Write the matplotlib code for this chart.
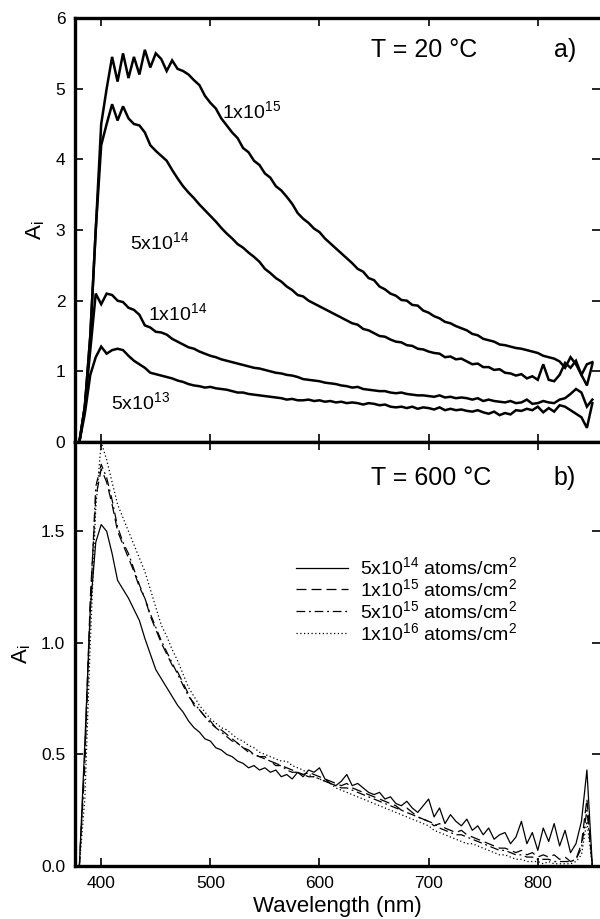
import numpy as np
import matplotlib
matplotlib.use("Agg")
import matplotlib.pyplot as plt

plt.rcParams['font.family'] = ['Liberation Sans', 'DejaVu Sans']
plt.rcParams['mathtext.fontset'] = 'custom'
plt.rcParams['mathtext.rm'] = 'Liberation Sans'
plt.rcParams['mathtext.it'] = 'Liberation Sans:italic'
plt.rcParams['mathtext.default'] = 'regular'

# ---------------- data ----------------
wavelength = np.arange(380, 851, 5)  # nm

# panel a) T = 20 C
a_1e15 = [0.0, 0.5, 1.5, 3.0, 4.5, 5.0, 5.45, 5.1, 5.5, 5.15,
          5.45, 5.2, 5.55, 5.3, 5.5, 5.42, 5.25, 5.4, 5.28, 5.25,
          5.2, 5.12, 5.05, 4.9, 4.8, 4.72, 4.58, 4.48, 4.38, 4.3,
          4.16, 4.1, 3.98, 3.92, 3.8, 3.74, 3.62, 3.56, 3.47, 3.37,
          3.24, 3.16, 3.1, 3.02, 2.97, 2.88, 2.81, 2.74, 2.67, 2.6,
          2.53, 2.45, 2.41, 2.32, 2.29, 2.2, 2.16, 2.1, 2.07, 2.01,
          2.0, 1.94, 1.93, 1.86, 1.83, 1.78, 1.75, 1.7, 1.68, 1.64,
          1.61, 1.58, 1.53, 1.51, 1.46, 1.44, 1.42, 1.38, 1.37, 1.35,
          1.33, 1.32, 1.3, 1.28, 1.26, 1.22, 1.2, 1.18, 1.14, 1.05,
          1.2, 1.1, 0.95, 1.1, 1.13]
a_5e14 = [0.0, 0.5, 1.5, 3.0, 4.2, 4.5, 4.78, 4.55, 4.75, 4.58,
          4.5, 4.48, 4.38, 4.2, 4.12, 4.05, 3.98, 3.85, 3.73, 3.62,
          3.53, 3.45, 3.36, 3.28, 3.2, 3.12, 3.03, 2.95, 2.88, 2.8,
          2.75, 2.68, 2.62, 2.55, 2.45, 2.39, 2.32, 2.27, 2.2, 2.15,
          2.08, 2.06, 2.0, 1.96, 1.92, 1.88, 1.84, 1.8, 1.76, 1.72,
          1.68, 1.66, 1.6, 1.58, 1.54, 1.5, 1.49, 1.45, 1.42, 1.41,
          1.37, 1.36, 1.32, 1.31, 1.28, 1.26, 1.25, 1.2, 1.21, 1.17,
          1.18, 1.14, 1.1, 1.11, 1.06, 1.06, 1.02, 1.03, 0.98, 0.97,
          0.94, 0.96, 0.9, 0.93, 0.88, 1.1, 0.88, 0.86, 0.95, 1.12,
          1.05, 1.15, 0.95, 0.8, 1.1]
a_1e14 = [0.0, 0.5, 1.3, 2.1, 1.95, 2.1, 2.08, 2.0, 1.98, 1.9,
          1.87, 1.8, 1.65, 1.62, 1.56, 1.55, 1.52, 1.46, 1.42, 1.38,
          1.34, 1.32, 1.28, 1.25, 1.22, 1.2, 1.17, 1.15, 1.13, 1.11,
          1.09, 1.07, 1.05, 1.04, 1.02, 1.0, 0.98, 0.97, 0.95, 0.94,
          0.92, 0.89, 0.88, 0.87, 0.86, 0.84, 0.83, 0.82, 0.8, 0.79,
          0.77, 0.78, 0.75, 0.74, 0.73, 0.72, 0.72, 0.7, 0.69, 0.7,
          0.68, 0.67, 0.66, 0.66, 0.65, 0.64, 0.66, 0.63, 0.64, 0.62,
          0.63, 0.62, 0.6, 0.62, 0.58, 0.6, 0.58, 0.57, 0.56, 0.58,
          0.55, 0.56, 0.6, 0.54, 0.55, 0.58, 0.56, 0.55, 0.6, 0.62,
          0.68, 0.75, 0.7, 0.5, 0.6]
a_5e13 = [0.0, 0.4, 0.95, 1.2, 1.35, 1.25, 1.3, 1.32, 1.3, 1.22,
          1.15, 1.1, 1.05, 0.98, 0.96, 0.94, 0.92, 0.9, 0.87, 0.85,
          0.82, 0.8, 0.79, 0.77, 0.78, 0.76, 0.75, 0.74, 0.72, 0.7,
          0.7, 0.68, 0.67, 0.66, 0.65, 0.64, 0.63, 0.62, 0.6, 0.61,
          0.59, 0.59, 0.6, 0.58, 0.59, 0.57, 0.58, 0.56, 0.57, 0.55,
          0.56, 0.55, 0.53, 0.55, 0.54, 0.52, 0.53, 0.5, 0.49, 0.5,
          0.48, 0.5, 0.47, 0.49, 0.48, 0.46, 0.49, 0.45, 0.47, 0.45,
          0.46, 0.44, 0.43, 0.45, 0.42, 0.4, 0.43, 0.38, 0.41, 0.39,
          0.45, 0.44, 0.47, 0.45, 0.5, 0.42, 0.48, 0.43, 0.52, 0.5,
          0.45, 0.4, 0.35, 0.2, 0.55]

# panel b) T = 600 C
b_5e14 = [0.0, 0.55, 1.15, 1.45, 1.53, 1.5, 1.4, 1.28, 1.24, 1.2,
          1.15, 1.1, 1.02, 0.95, 0.88, 0.84, 0.8, 0.76, 0.72, 0.69,
          0.65, 0.62, 0.6, 0.57, 0.56, 0.53, 0.52, 0.5, 0.49, 0.47,
          0.46, 0.44, 0.45, 0.43, 0.44, 0.42, 0.43, 0.4, 0.41, 0.39,
          0.42, 0.4, 0.43, 0.42, 0.44, 0.39, 0.37, 0.36, 0.38, 0.41,
          0.36, 0.37, 0.35, 0.33, 0.32, 0.33, 0.3, 0.31, 0.28, 0.27,
          0.29, 0.26, 0.24, 0.27, 0.3, 0.22, 0.26, 0.19, 0.23, 0.2,
          0.18, 0.21, 0.16, 0.18, 0.14, 0.17, 0.12, 0.14, 0.15, 0.1,
          0.13, 0.2, 0.1, 0.15, 0.07, 0.17, 0.11, 0.19, 0.09, 0.16,
          0.06, 0.1, 0.2, 0.43, 0.0]
b_1e15 = [0.0, 0.5, 1.2, 1.65, 1.78, 1.72, 1.62, 1.5, 1.44, 1.38,
          1.32, 1.25, 1.2, 1.12, 1.06, 1.0, 0.95, 0.9, 0.87, 0.82,
          0.77, 0.72, 0.7, 0.67, 0.65, 0.62, 0.61, 0.59, 0.57, 0.55,
          0.53, 0.52, 0.5, 0.49, 0.49, 0.47, 0.46, 0.45, 0.44, 0.43,
          0.42, 0.41, 0.42, 0.41, 0.4, 0.39, 0.38, 0.37, 0.36, 0.37,
          0.35, 0.34, 0.33, 0.32, 0.31, 0.3, 0.29, 0.28, 0.27, 0.25,
          0.26, 0.24, 0.22, 0.21, 0.2, 0.18, 0.19, 0.17, 0.16, 0.15,
          0.16, 0.14, 0.13, 0.12, 0.11, 0.1, 0.09, 0.08, 0.08, 0.07,
          0.06, 0.07, 0.05, 0.06, 0.04, 0.05, 0.04, 0.05, 0.03, 0.04,
          0.02, 0.03, 0.1, 0.3, 0.0]
b_5e15 = [0.0, 0.45, 1.15, 1.7, 1.8, 1.74, 1.64, 1.52, 1.45, 1.4,
          1.33, 1.26, 1.2, 1.13, 1.07, 1.01, 0.96, 0.91, 0.86, 0.81,
          0.76, 0.73, 0.7, 0.67, 0.64, 0.62, 0.6, 0.58, 0.56, 0.55,
          0.53, 0.51, 0.5, 0.49, 0.48, 0.47, 0.45, 0.45, 0.43, 0.42,
          0.42, 0.41, 0.4, 0.4, 0.39, 0.38, 0.37, 0.36, 0.35, 0.35,
          0.34, 0.33, 0.32, 0.31, 0.3, 0.29, 0.28, 0.27, 0.26, 0.25,
          0.24, 0.23, 0.22, 0.21, 0.2, 0.19, 0.17, 0.16, 0.15, 0.14,
          0.14, 0.13, 0.12, 0.11, 0.1, 0.09, 0.08, 0.07, 0.07, 0.06,
          0.05, 0.05, 0.04, 0.04, 0.03, 0.03, 0.03, 0.02, 0.02, 0.02,
          0.02, 0.03, 0.08, 0.25, 0.0]
b_1e16 = [0.0, 0.3, 1.0, 1.6, 1.9, 1.82, 1.72, 1.62, 1.56, 1.5,
          1.44, 1.38, 1.32, 1.24, 1.16, 1.08, 1.03, 0.97, 0.92, 0.86,
          0.8, 0.76, 0.72, 0.69, 0.66, 0.64, 0.62, 0.61, 0.59, 0.57,
          0.56, 0.54, 0.53, 0.51, 0.5, 0.49, 0.48, 0.47, 0.47, 0.45,
          0.44, 0.43, 0.41, 0.4, 0.39, 0.38, 0.37, 0.35, 0.34, 0.33,
          0.32, 0.31, 0.3, 0.29, 0.28, 0.27, 0.26, 0.25, 0.24, 0.23,
          0.22, 0.21, 0.2, 0.19, 0.18, 0.16, 0.15, 0.14, 0.13, 0.12,
          0.11, 0.1, 0.1, 0.09, 0.08, 0.07, 0.06, 0.05, 0.05, 0.04,
          0.03, 0.03, 0.02, 0.02, 0.02, 0.01, 0.02, 0.01, 0.01, 0.01,
          0.01, 0.02, 0.05, 0.2, 0.0]

top_labels = ['1x10$^{15}$', '5x10$^{14}$', '1x10$^{14}$', '5x10$^{13}$']
top_label_pos = [(511, 4.68), (426, 2.83), (443, 1.82), (409, 0.57)]
bottom_labels = ['5x10$^{14}$ atoms/cm$^{2}$', '1x10$^{15}$ atoms/cm$^{2}$',
                 '5x10$^{15}$ atoms/cm$^{2}$', '1x10$^{16}$ atoms/cm$^{2}$']
xticks = [400, 500, 600, 700, 800]

# ---------------- figure ----------------
fig = plt.figure(figsize=(6.0, 9.19), dpi=100)
ax1 = fig.add_axes([0.125, 0.51904, 0.875, 0.46137])
ax2 = fig.add_axes([0.125, 0.05767, 0.875, 0.46137])

for ax in (ax1, ax2):
    ax.set_xlim(376, 857)
    ax.set_xticks(xticks)
    ax.tick_params(direction='in', top=True, right=True, length=6, width=1.2,
                   labelsize=12.5, pad=7)
    for s in ('left', 'bottom', 'top'):
        ax.spines[s].set_linewidth(2.4)
    ax.spines['right'].set_visible(False)

# top panel
for y in (a_1e15, a_5e14, a_1e14, a_5e13):
    ax1.plot(wavelength, y, color='black', lw=1.8, solid_joinstyle='miter')
ax1.set_ylim(0, 6)
ax1.set_yticks([0, 1, 2, 3, 4, 5, 6])
ax1.tick_params(labelbottom=False)
ax1.set_ylabel('A$_{i}$', fontsize=16, labelpad=6)
for lab, (x, y) in zip(top_labels, top_label_pos):
    ax1.text(x, y, lab, fontsize=14, ha='left', va='center')
ax1.text(0.665, 0.925, 'T = 20 °C', transform=ax1.transAxes, fontsize=18,
         ha='center', va='center')
ax1.text(0.933, 0.925, 'a)', transform=ax1.transAxes, fontsize=18,
         ha='center', va='center')

# bottom panel
styles = ['-', (0, (8, 4)), (0, (7, 3, 1.5, 3)), (0, (1, 2))]
for y, ls, lab in zip((b_5e14, b_1e15, b_5e15, b_1e16), styles, bottom_labels):
    ax2.plot(wavelength, y, color='black', lw=0.9, linestyle=ls, label=lab)
ax2.set_ylim(0, 1.9)
ax2.set_yticks([0.0, 0.5, 1.0, 1.5])
ax2.set_yticklabels(['0.0', '0.5', '1.0', '1.5'])
ax2.set_ylabel('A$_{i}$', fontsize=16, labelpad=6)
ax2.set_xlabel('Wavelength (nm)', fontsize=16, labelpad=4)
ax2.text(0.678, 0.915, 'T = 600 °C', transform=ax2.transAxes, fontsize=18,
         ha='center', va='center')
ax2.text(0.933, 0.915, 'b)', transform=ax2.transAxes, fontsize=18,
         ha='center', va='center')
ax2.legend(loc='upper left', bbox_to_anchor=(0.42, 0.73), frameon=False,
           fontsize=14, handlelength=2.7, handletextpad=0.6, labelspacing=0.0,
           borderpad=0.0, borderaxespad=0.0)

fig.savefig('out.png', dpi=100)
